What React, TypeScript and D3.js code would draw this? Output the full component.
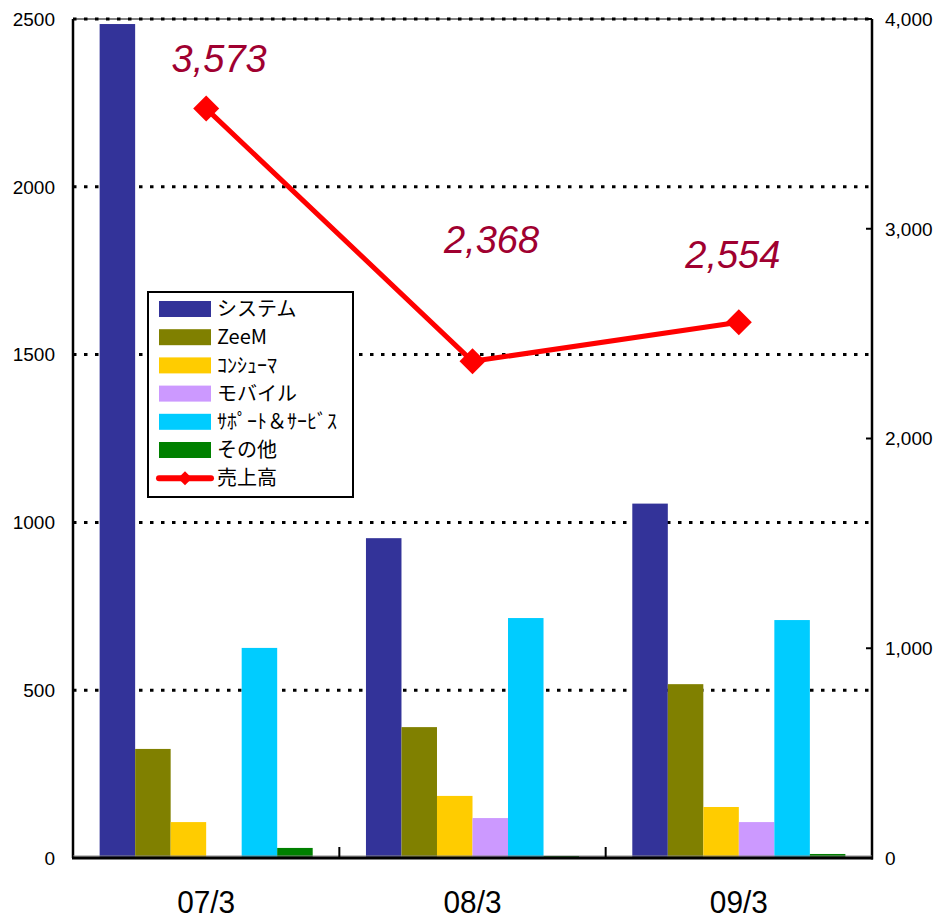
import React from "react";
import * as d3 from "d3";

// Fiscal periods
const categories = ["07/3", "08/3", "09/3"];

// Segment names and colours
const seriesNames = ["システム", "ZeeM", "ｺﾝｼｭｰﾏ", "モバイル", "ｻﾎﾟｰﾄ＆ｻｰﾋﾞｽ", "その他"];
const seriesColors = ["#333399", "#808000", "#FFCC00", "#CC99FF", "#00CCFF", "#008000"];

// Segment sales per period (left axis)
const systemValues = [2485, 953, 1056];
const zeemValues = [325, 390, 518];
const consumerValues = [107, 185, 152];
const mobileValues = [0, 119, 107];
const supportValues = [626, 715, 709];
const otherValues = [30, 6, 12];

// Total sales per period (right axis)
const salesLabel = "売上高";
const salesValues = [3573, 2368, 2554];

// Axis ticks
const leftTicks = [0, 500, 1000, 1500, 2000, 2500];
const rightTicks = [0, 1000, 2000, 3000, 4000];

// Nudges for the value labels relative to their points
const labelNudge: [number, number][] = [
  [13, -37],
  [19, -108],
  [-6, -54],
];

const W = 938;
const H = 920;
const left = 73;
const right = 872;
const top = 19;
const bottom = 858;

export default function App() {
  const seriesValues = [systemValues, zeemValues, consumerValues, mobileValues, supportValues, otherValues];

  const x = d3.scaleBand<string>().domain(categories).range([left, right]).padding(0);
  const bw = x.bandwidth();
  const gap = bw * 0.1;
  const xs = d3
    .scaleBand<string>()
    .domain(seriesNames)
    .range([gap, bw - gap])
    .padding(0);

  const yL = d3.scaleLinear().domain([0, 2500]).range([bottom, top]);
  const yR = d3.scaleLinear().domain([0, 4000]).range([bottom, top]);

  const line = d3
    .line<number>()
    .x((_, i) => (x(categories[i]) as number) + bw / 2)
    .y((d) => yR(d));

  const fmt = d3.format(",");
  const jp = "'Noto Sans CJK JP', 'Liberation Sans', Arial, sans-serif";
  const sans = "'Liberation Sans', Arial, sans-serif";

  const diamond = (cx: number, cy: number, r: number) =>
    `M${cx},${cy - r}L${cx + r},${cy}L${cx},${cy + r}L${cx - r},${cy}Z`;

  const legendX = 148;
  const legendY = 292;
  const legendW = 205;
  const legendH = 205;
  const rowY = (i: number) => 309 + i * 28.2;

  return (
    <svg width={W} height={H} style={{ display: "block", position: "absolute", left: 0, top: 0 }}>
      <rect x={0} y={0} width={W} height={H} fill="#fff" />

      {/* gridlines */}
      {leftTicks
        .filter((t) => t > 0)
        .map((t) => (
          <line
            key={t}
            x1={left}
            x2={right}
            y1={yL(t)}
            y2={yL(t)}
            stroke="#000"
            strokeWidth={3}
            strokeDasharray="3.5 7.5"
          />
        ))}
      <line x1={left} x2={right} y1={top} y2={top} stroke="#000" strokeWidth={1} />

      {/* bars */}
      {categories.map((c, ci) => (
        <g key={c}>
          {seriesNames.map((s, si) => {
            const v = seriesValues[si][ci];
            const bx = (x(c) as number) + (xs(s) as number);
            return (
              <rect
                key={s}
                x={bx}
                y={yL(v)}
                width={xs.bandwidth()}
                height={bottom - yL(v)}
                fill={seriesColors[si]}
              />
            );
          })}
        </g>
      ))}

      {/* axes */}
      <line x1={left} x2={left} y1={top} y2={bottom} stroke="#000" strokeWidth={2.5} />
      <line x1={right} x2={right} y1={top} y2={bottom + 1.5} stroke="#000" strokeWidth={2.5} />
      <line x1={left} x2={right} y1={bottom - 2} y2={bottom - 2} stroke="#888" strokeWidth={1} />
      <line x1={left - 1} x2={right + 1} y1={bottom} y2={bottom} stroke="#000" strokeWidth={3} />
      {categories.slice(1).map((c) => (
        <line
          key={c}
          x1={x(c) as number}
          x2={x(c) as number}
          y1={bottom - 11}
          y2={bottom}
          stroke="#000"
          strokeWidth={2}
        />
      ))}
      {rightTicks.map((t) => (
        <line key={t} x1={right - 6} x2={right} y1={yR(t)} y2={yR(t)} stroke="#000" strokeWidth={2} />
      ))}

      {/* left axis labels */}
      {leftTicks.map((t) => (
        <text
          key={t}
          x={55}
          y={yL(t)}
          dy="0.36em"
          textAnchor="end"
          fontFamily={sans}
          fontSize={19}
          fill="#000"
        >
          {t}
        </text>
      ))}
      {/* right axis labels */}
      {rightTicks.map((t) => (
        <text
          key={t}
          x={885}
          y={yR(t)}
          dy="0.36em"
          textAnchor="start"
          fontFamily={sans}
          fontSize={19}
          fill="#000"
        >
          {fmt(t)}
        </text>
      ))}
      {/* category labels */}
      {categories.map((c) => (
        <text
          key={c}
          x={(x(c) as number) + bw / 2}
          y={913}
          textAnchor="middle"
          fontFamily={sans}
          fontSize={31}
          textLength={58}
          lengthAdjust="spacingAndGlyphs"
          fill="#000"
        >
          {c}
        </text>
      ))}

      {/* sales line */}
      <path d={line(salesValues) ?? ""} fill="none" stroke="#FF0000" strokeWidth={5} strokeLinejoin="round" />
      {salesValues.map((v, i) => {
        const cx = (x(categories[i]) as number) + bw / 2;
        return <path key={i} d={diamond(cx, yR(v), 13)} fill="#FF0000" />;
      })}
      {salesValues.map((v, i) => {
        const cx = (x(categories[i]) as number) + bw / 2;
        return (
          <text
            key={i}
            x={cx + labelNudge[i][0]}
            y={yR(v) + labelNudge[i][1]}
            textAnchor="middle"
            fontFamily={sans}
            fontStyle="italic"
            fontSize={38}
            fill="#A00030"
          >
            {fmt(v)}
          </text>
        );
      })}

      {/* legend */}
      <rect x={legendX} y={legendY} width={legendW} height={legendH} fill="#fff" stroke="#000" strokeWidth={2} />
      {seriesNames.map((s, i) => (
        <g key={s}>
          <rect x={159} y={rowY(i) - 8} width={52} height={16} fill={seriesColors[i]} />
          <text x={217} y={rowY(i)} dy="0.36em" fontFamily={jp} fontSize={20} fill="#000">
            {s}
          </text>
        </g>
      ))}
      <g>
        <line x1={159} x2={211} y1={rowY(6)} y2={rowY(6)} stroke="#FF0000" strokeWidth={6} strokeLinecap="round" />
        <path d={diamond(185, rowY(6), 7)} fill="#FF0000" />
        <text x={217} y={rowY(6)} dy="0.36em" fontFamily={jp} fontSize={20} fill="#000">
          {salesLabel}
        </text>
      </g>
    </svg>
  );
}
